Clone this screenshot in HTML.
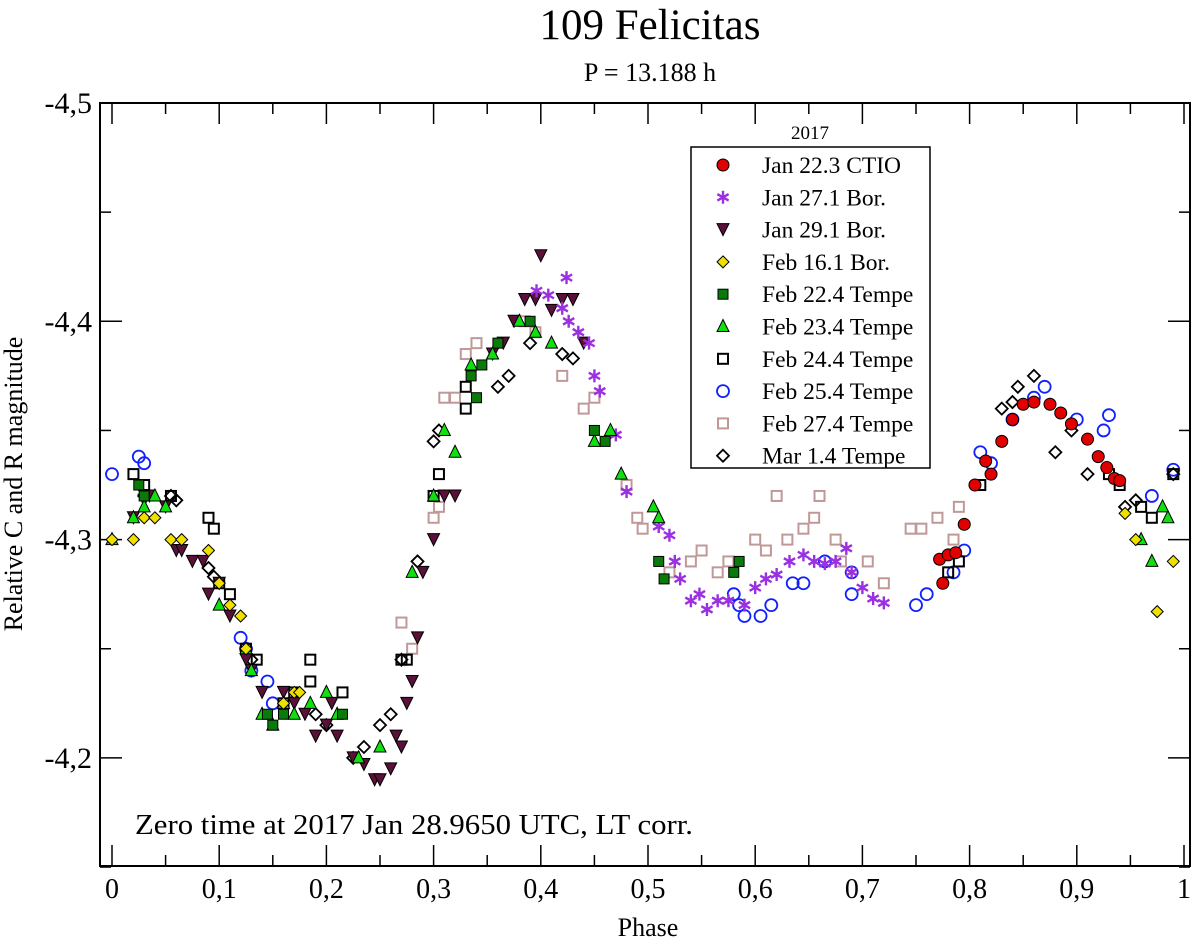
<!DOCTYPE html>
<html><head><meta charset="utf-8"><style>
body{margin:0;background:#fff}
svg text{font-family:"Liberation Serif",serif;fill:#000}
</style></head><body>
<svg id="chart" width="1200" height="944" viewBox="0 0 1200 944" xmlns="http://www.w3.org/2000/svg">
<text x="650" y="39" font-size="43" text-anchor="middle">109 Felicitas</text>
<text x="650" y="81" font-size="26" text-anchor="middle">P = 13.188 h</text>
<rect x="100" y="103" width="1090" height="763" fill="none" stroke="#000" stroke-width="2"/>
<g id="axes"></g>
<g id="marks"></g>
<text transform="translate(22,484) rotate(-90)" font-size="26" text-anchor="middle">Relative C and R magnitude</text>
<text x="648" y="936" font-size="26" text-anchor="middle">Phase</text>
<text x="135" y="834" font-size="28" textLength="558" lengthAdjust="spacingAndGlyphs">Zero time at 2017 Jan 28.9650 UTC, LT corr.</text>
<text x="810" y="139" font-size="19" text-anchor="middle">2017</text>
<rect x="691" y="147" width="239" height="321" fill="#fff" stroke="#000" stroke-width="1.5"/>
<g id="legend"></g>
</svg>
<script>
const xTicks=[0,0.1,0.2,0.3,0.4,0.5,0.6,0.7,0.8,0.9,1];
const xTickLabels=["0","0,1","0,2","0,3","0,4","0,5","0,6","0,7","0,8","0,9","1"];
const yTicks=[-4.5,-4.4,-4.3,-4.2];
const yTickLabels=["-4,5","-4,4","-4,3","-4,2"];
const seriesNames=["Jan 22.3 CTIO","Jan 27.1 Bor.","Jan 29.1 Bor.","Feb 16.1 Bor.","Feb 22.4 Tempe","Feb 23.4 Tempe","Feb 24.4 Tempe","Feb 25.4 Tempe","Feb 27.4 Tempe","Mar 1.4 Tempe"];
const jan22=[[0.772,-4.291],[0.78,-4.293],[0.787,-4.294],[0.775,-4.28],[0.795,-4.307],[0.805,-4.325],[0.815,-4.336],[0.82,-4.33],[0.83,-4.345],[0.84,-4.355],[0.85,-4.362],[0.86,-4.363],[0.875,-4.362],[0.885,-4.358],[0.895,-4.353],[0.91,-4.346],[0.92,-4.338],[0.928,-4.333],[0.935,-4.328],[0.94,-4.327]];
const jan27=[[0.396,-4.414],[0.407,-4.412],[0.424,-4.42],[0.42,-4.406],[0.426,-4.4],[0.435,-4.395],[0.445,-4.39],[0.45,-4.375],[0.455,-4.368],[0.47,-4.348],[0.48,-4.322],[0.51,-4.306],[0.52,-4.302],[0.525,-4.29],[0.53,-4.282],[0.54,-4.272],[0.548,-4.275],[0.555,-4.268],[0.565,-4.272],[0.575,-4.272],[0.59,-4.27],[0.6,-4.278],[0.61,-4.282],[0.62,-4.284],[0.632,-4.29],[0.645,-4.293],[0.655,-4.29],[0.665,-4.289],[0.675,-4.29],[0.685,-4.296],[0.69,-4.285],[0.7,-4.278],[0.71,-4.273],[0.72,-4.271]];
const jan29=[[0.02,-4.31],[0.03,-4.318],[0.035,-4.32],[0.05,-4.315],[0.06,-4.295],[0.065,-4.295],[0.075,-4.29],[0.085,-4.29],[0.09,-4.275],[0.1,-4.28],[0.11,-4.265],[0.125,-4.245],[0.13,-4.24],[0.14,-4.23],[0.16,-4.23],[0.17,-4.225],[0.18,-4.22],[0.19,-4.21],[0.2,-4.215],[0.205,-4.225],[0.21,-4.21],[0.225,-4.2],[0.235,-4.197],[0.245,-4.19],[0.25,-4.19],[0.26,-4.195],[0.265,-4.21],[0.27,-4.205],[0.275,-4.225],[0.28,-4.235],[0.285,-4.255],[0.29,-4.285],[0.3,-4.3],[0.31,-4.32],[0.32,-4.32],[0.355,-4.385],[0.365,-4.39],[0.375,-4.4],[0.385,-4.41],[0.395,-4.41],[0.4,-4.43],[0.41,-4.405],[0.42,-4.41],[0.43,-4.41],[0.44,-4.39]];
const feb16=[[0.0,-4.3],[0.02,-4.3],[0.03,-4.31],[0.04,-4.31],[0.055,-4.3],[0.065,-4.3],[0.09,-4.295],[0.1,-4.28],[0.11,-4.27],[0.12,-4.265],[0.125,-4.25],[0.16,-4.225],[0.17,-4.23],[0.175,-4.23],[0.945,-4.312],[0.955,-4.3],[0.975,-4.267],[0.99,-4.29]];
const feb22=[[0.025,-4.325],[0.03,-4.32],[0.145,-4.22],[0.15,-4.215],[0.16,-4.22],[0.215,-4.22],[0.335,-4.375],[0.34,-4.365],[0.345,-4.38],[0.36,-4.39],[0.39,-4.4],[0.45,-4.35],[0.46,-4.345],[0.51,-4.29],[0.515,-4.282],[0.58,-4.285],[0.585,-4.29]];
const feb23=[[0.0,-4.3],[0.02,-4.31],[0.03,-4.315],[0.04,-4.32],[0.05,-4.315],[0.1,-4.27],[0.125,-4.25],[0.13,-4.24],[0.14,-4.22],[0.15,-4.215],[0.16,-4.225],[0.17,-4.22],[0.185,-4.225],[0.2,-4.23],[0.21,-4.22],[0.23,-4.2],[0.25,-4.205],[0.28,-4.285],[0.3,-4.32],[0.31,-4.35],[0.32,-4.34],[0.335,-4.38],[0.355,-4.385],[0.38,-4.4],[0.395,-4.395],[0.41,-4.39],[0.45,-4.345],[0.465,-4.35],[0.475,-4.33],[0.505,-4.315],[0.51,-4.31],[0.96,-4.3],[0.97,-4.29],[0.98,-4.315],[0.985,-4.31]];
const feb24=[[0.02,-4.33],[0.03,-4.325],[0.055,-4.32],[0.09,-4.31],[0.095,-4.305],[0.1,-4.28],[0.11,-4.275],[0.125,-4.25],[0.135,-4.245],[0.16,-4.225],[0.17,-4.23],[0.185,-4.235],[0.185,-4.245],[0.215,-4.23],[0.27,-4.245],[0.275,-4.245],[0.3,-4.32],[0.305,-4.33],[0.33,-4.37],[0.33,-4.36],[0.78,-4.285],[0.79,-4.29],[0.81,-4.325],[0.93,-4.33],[0.94,-4.325],[0.96,-4.315],[0.97,-4.31],[0.99,-4.33]];
const feb25=[[0.0,-4.33],[0.025,-4.338],[0.03,-4.335],[0.12,-4.255],[0.125,-4.25],[0.13,-4.24],[0.145,-4.235],[0.15,-4.225],[0.58,-4.275],[0.585,-4.27],[0.59,-4.265],[0.605,-4.265],[0.615,-4.27],[0.635,-4.28],[0.645,-4.28],[0.665,-4.29],[0.69,-4.285],[0.69,-4.275],[0.75,-4.27],[0.76,-4.275],[0.785,-4.285],[0.795,-4.295],[0.81,-4.34],[0.82,-4.335],[0.84,-4.355],[0.86,-4.365],[0.87,-4.37],[0.9,-4.355],[0.925,-4.35],[0.93,-4.357],[0.97,-4.32],[0.99,-4.332]];
const feb27=[[0.27,-4.262],[0.28,-4.25],[0.3,-4.31],[0.305,-4.315],[0.31,-4.365],[0.32,-4.365],[0.33,-4.385],[0.34,-4.39],[0.385,-4.4],[0.395,-4.395],[0.42,-4.375],[0.44,-4.36],[0.45,-4.365],[0.48,-4.325],[0.49,-4.31],[0.495,-4.305],[0.52,-4.285],[0.54,-4.29],[0.55,-4.295],[0.565,-4.285],[0.575,-4.29],[0.6,-4.3],[0.61,-4.295],[0.62,-4.32],[0.63,-4.3],[0.645,-4.305],[0.655,-4.31],[0.66,-4.32],[0.675,-4.3],[0.68,-4.29],[0.705,-4.29],[0.72,-4.28],[0.745,-4.305],[0.755,-4.305],[0.77,-4.31],[0.79,-4.315],[0.785,-4.3]];
const mar01=[[0.03,-4.32],[0.055,-4.32],[0.06,-4.318],[0.09,-4.287],[0.095,-4.283],[0.13,-4.245],[0.19,-4.22],[0.2,-4.215],[0.225,-4.2],[0.235,-4.205],[0.25,-4.215],[0.26,-4.22],[0.27,-4.245],[0.285,-4.29],[0.3,-4.345],[0.305,-4.35],[0.36,-4.37],[0.37,-4.375],[0.39,-4.39],[0.42,-4.385],[0.43,-4.383],[0.83,-4.36],[0.84,-4.363],[0.845,-4.37],[0.86,-4.375],[0.88,-4.34],[0.895,-4.35],[0.91,-4.33],[0.945,-4.315],[0.955,-4.318],[0.99,-4.33]];

const X=p=>112+p*1072;
const Y=m=>103+(m+4.5)*2183;
const NS="http://www.w3.org/2000/svg";
function mk(tag,attrs,parent){const e=document.createElementNS(NS,tag);for(const k in attrs)e.setAttribute(k,attrs[k]);parent.appendChild(e);return e;}
const axes=document.getElementById('axes');
xTicks.forEach((t,i)=>{
  const l=mk('line',{x1:X(t),x2:X(t),y1:866,y2:845,stroke:'#000','stroke-width':1.5},axes);
  
  
  const l2=mk('line',{x1:X(t),x2:X(t),y1:103,y2:124,stroke:'#000','stroke-width':1.5},axes);
  
  
  if(i<xTicks.length-1){const m=t+0.05;
    const a=mk('line',{x1:X(m),x2:X(m),y1:866,y2:855,stroke:'#000','stroke-width':1.5},axes);
    
    
    const b=mk('line',{x1:X(m),x2:X(m),y1:103,y2:114,stroke:'#000','stroke-width':1.5},axes);
    
    }
  const tx=mk('text',{x:X(t),y:898,'font-size':28,'text-anchor':'middle'},axes);tx.textContent=xTickLabels[i];
  
  
});
yTicks.forEach((t,i)=>{
  const l=mk('line',{x1:100,x2:122,y1:Y(t),y2:Y(t),stroke:'#000','stroke-width':1.5},axes);
  
  
  const l2=mk('line',{x1:1168,x2:1190,y1:Y(t),y2:Y(t),stroke:'#000','stroke-width':1.5},axes);
  
  
  const tx=mk('text',{x:92,y:Y(t)+10,'font-size':30,'text-anchor':'end'},axes);tx.textContent=yTickLabels[i];
  
  
});
[-4.45,-4.35,-4.25,-4.15].forEach(m=>{
  const a=mk('line',{x1:100,x2:111,y1:Y(m),y2:Y(m),stroke:'#000','stroke-width':1.5},axes);
  
  
  const b=mk('line',{x1:1179,x2:1190,y1:Y(m),y2:Y(m),stroke:'#000','stroke-width':1.5},axes);
  
  
});
function marker(type,cx,cy,parent){
  let e;
  if(type==='circle')e=mk('circle',{cx,cy,r:6,fill:'#e00000',stroke:'#000','stroke-width':1},parent);
  else if(type==='star'){const r=6.5,c=r*0.866,s=r*0.5;e=mk('path',{d:`M${cx},${cy-r}V${cy+r}M${cx-c},${cy-s}L${cx+c},${cy+s}M${cx-c},${cy+s}L${cx+c},${cy-s}`,stroke:'#9b30e0','stroke-width':2.4,fill:'none'},parent);}
  else if(type==='tdown')e=mk('polygon',{points:`${cx-6},${cy-6} ${cx+6},${cy-6} ${cx},${cy+6}`,fill:'#5a1038',stroke:'#000','stroke-width':1},parent);
  else if(type==='diam')e=mk('polygon',{points:`${cx},${cy-6} ${cx+6},${cy} ${cx},${cy+6} ${cx-6},${cy}`,fill:'#f0e000',stroke:'#000','stroke-width':1},parent);
  else if(type==='gsq')e=mk('rect',{x:cx-5,y:cy-5,width:10,height:10,fill:'#0a7a0a',stroke:'#000','stroke-width':1},parent);
  else if(type==='tup')e=mk('polygon',{points:`${cx-6},${cy+5} ${cx+6},${cy+5} ${cx},${cy-7}`,fill:'#10e010',stroke:'#000','stroke-width':1},parent);
  else if(type==='bsq')e=mk('rect',{x:cx-5,y:cy-5,width:10,height:10,fill:'none',stroke:'#000','stroke-width':2},parent);
  else if(type==='bcirc')e=mk('circle',{cx,cy,r:6,fill:'none',stroke:'#1020ff','stroke-width':1.8},parent);
  else if(type==='psq')e=mk('rect',{x:cx-5,y:cy-5,width:10,height:10,fill:'none',stroke:'#c09898','stroke-width':2},parent);
  else e=mk('polygon',{points:`${cx},${cy-6} ${cx+6},${cy} ${cx},${cy+6} ${cx-6},${cy}`,fill:'none',stroke:'#000','stroke-width':1.8},parent);
  return e;
}
const types=['circle','star','tdown','diam','gsq','tup','bsq','bcirc','psq','bdiam'];
const datasets=[jan22,jan27,jan29,feb16,feb22,feb23,feb24,feb25,feb27,mar01];
const marks=document.getElementById('marks');
const order=[8,7,6,9,2,1,5,4,3,0];
order.forEach(si=>{
  const g=mk('g',{},marks);
  
  
  datasets[si].forEach(d=>{
    const e=marker(types[si],X(d[0]),Y(d[1]),g);
    
    
  });
});
const leg=document.getElementById('legend');
seriesNames.forEach((n,i)=>{
  const y=165+i*32.3;
  const g=mk('g',{},leg);
  
  
  marker(types[i],723,y,g);
  const t=mk('text',{x:762,y:y+8,'font-size':23.5},g);t.textContent=n;
});
</script>
</body></html>
